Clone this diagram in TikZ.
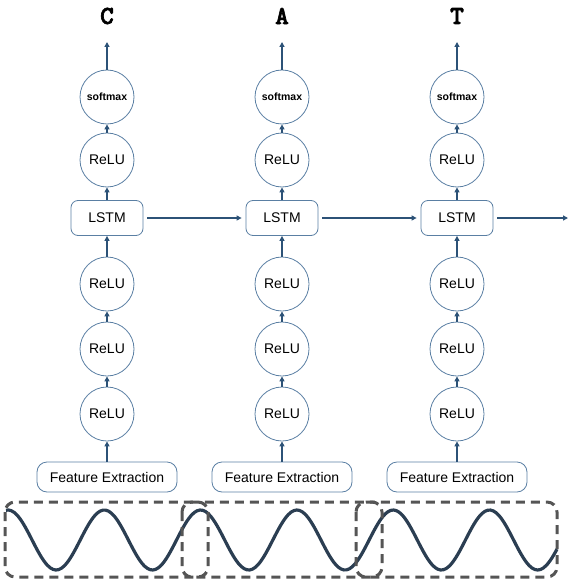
\documentclass[tikz,border=0pt]{standalone}
\usepackage{fontspec}
\setmainfont{Liberation Sans}
\newfontfamily\letterfont{lmmonolt10-bold}[Extension=.otf, FakeBold=2.5]
\usepackage{tikz}
\usetikzlibrary{arrows.meta}
\definecolor{edge}{HTML}{5A7FA3}
\definecolor{arrowc}{HTML}{2C5277}
\definecolor{wave}{HTML}{2B3E52}
\definecolor{frame}{HTML}{555555}
\tikzset{
  unit/.style={circle, draw=edge, line width=0.8pt, minimum size=54pt, inner sep=0pt, font=\fontsize{14}{16}\selectfont},
  smax/.style={unit, font=\bfseries\fontsize{10.5}{12}\selectfont},
  lstm/.style={draw=edge, line width=0.8pt, rounded corners=7pt, minimum width=72pt, minimum height=35pt, inner sep=0pt, font=\fontsize{14}{16}\selectfont},
  feat/.style={draw=edge, line width=0.8pt, rounded corners=10pt, minimum width=140pt, minimum height=30pt, inner sep=0pt, font=\fontsize{14}{16}\selectfont},
  flow/.style={draw=arrowc, line width=1.4pt, -{Triangle[length=5pt,width=5pt]}},
  letter/.style={font=\letterfont\fontsize{26}{26}\selectfont},
  window/.style={draw=frame, line width=3pt, dash pattern=on 9pt off 6pt, rounded corners=10pt},
}

\begin{document}
\begin{tikzpicture}[x=1pt, y=-1pt]
  \useasboundingbox (0,0) rectangle (570,580);

  % one column per output letter
  \foreach \i/\x/\ch in {1/107/C, 2/282/A, 3/457/T} {
    \node[feat] (fe\i) at (\x,477) {Feature Extraction};
    \node[unit] (ra\i) at (\x,414) {ReLU};
    \node[unit] (rb\i) at (\x,349) {ReLU};
    \node[unit] (rc\i) at (\x,284) {ReLU};
    \node[lstm] (lstm\i) at (\x,218) {LSTM};
    \node[unit] (rd\i) at (\x,160) {ReLU};
    \node[smax] (sm\i) at (\x,97) {softmax};
    \node[letter] (out\i) at (\x,16) {\ch};
    \coordinate (top\i) at (\x,42);

    \draw[flow] (fe\i) -- (ra\i);
    \draw[flow] (ra\i) -- (rb\i);
    \draw[flow] (rb\i) -- (rc\i);
    \draw[flow] (rc\i) -- (lstm\i);
    \draw[flow] (lstm\i) -- (rd\i);
    \draw[flow] (rd\i) -- (sm\i);
    \draw[flow] (sm\i) -- (top\i);
  }

  % recurrent links
  \coordinate (tail) at (568,218);
  \draw[flow] ([xshift=4pt]lstm1.east) -- ([xshift=-4pt]lstm2.west);
  \draw[flow] ([xshift=4pt]lstm2.east) -- ([xshift=-4pt]lstm3.west);
  \draw[flow] ([xshift=4pt]lstm3.east) -- (tail);

  % input signal and overlapping windows
  \draw[wave, line width=3.2pt, domain=6:557, samples=200, smooth]
    plot (\x, {540 - 30*cos(3.7383*(\x-8))});
  \draw[window] (5,502) rectangle (208,577);
  \draw[window] (182,502) rectangle (382,577);
  \draw[window] (356,502) rectangle (557,577);
\end{tikzpicture}
\end{document}
